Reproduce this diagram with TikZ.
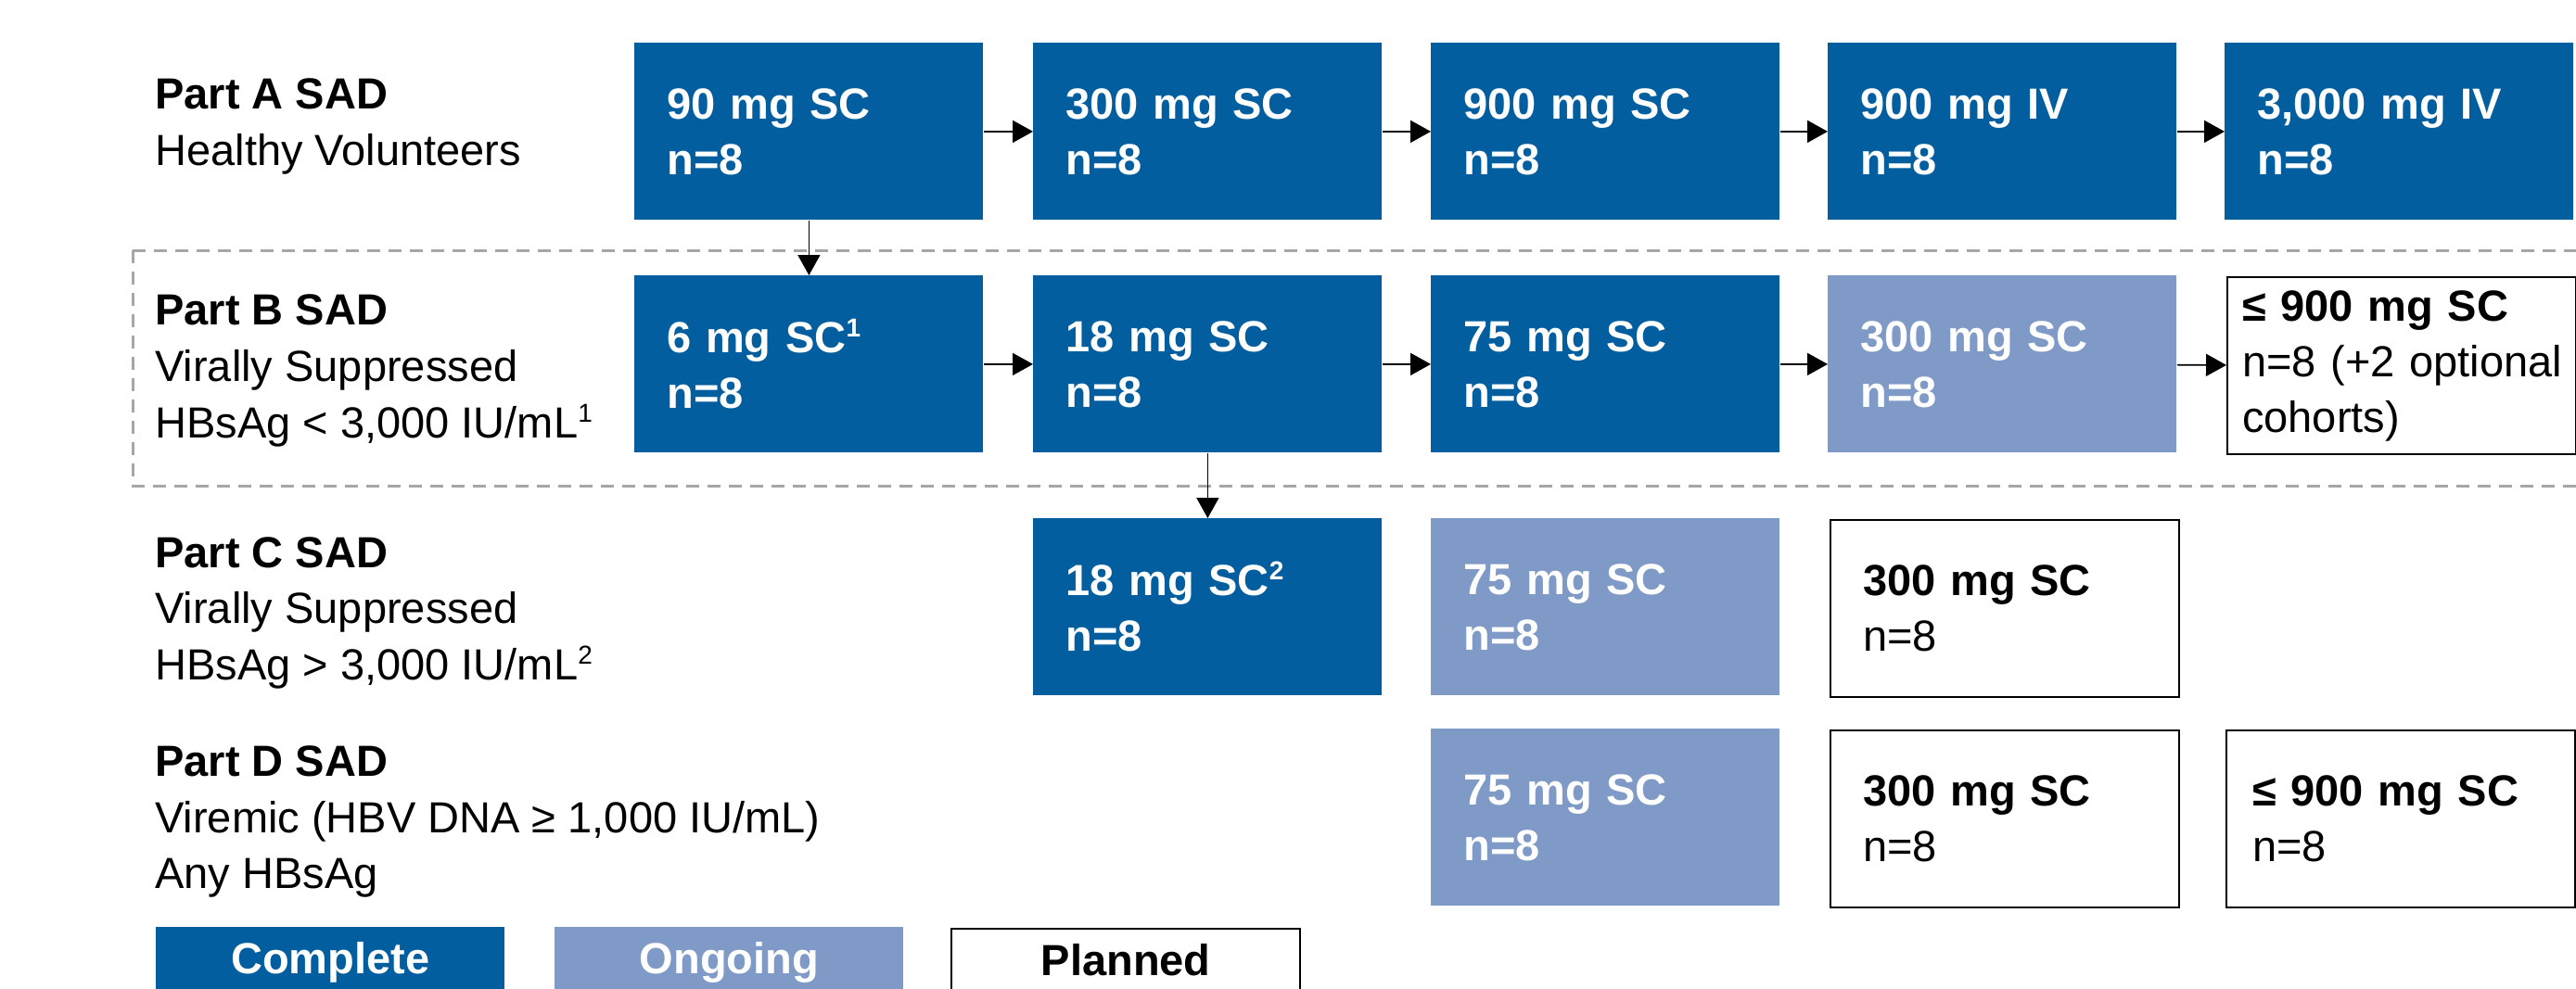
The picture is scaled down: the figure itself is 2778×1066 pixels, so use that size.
\documentclass[tikz,border=0pt]{standalone}
\usepackage{fontspec}
\setmainfont{Liberation Sans}
\usetikzlibrary{arrows.meta}
\definecolor{cdark}{HTML}{025E9E}
\definecolor{clight}{HTML}{7F9AC6}
\definecolor{dashgray}{HTML}{A6A6A6}
\newcommand\fsz{\fontsize{23.5pt}{30pt}\selectfont}
\newcommand\sups[1]{\raisebox{8.5pt}{\fontsize{14pt}{14pt}\selectfont #1}}
\tikzset{
  box/.style={rectangle, anchor=north west, minimum width=188pt, minimum height=95.5pt,
    inner xsep=17.5pt, inner ysep=0pt, text width=153pt, align=left, font=\fsz},
  done/.style={box, fill=cdark, text=white, font=\fsz\bfseries},
  ongo/.style={box, fill=clight, text=white, font=\fsz\bfseries},
  plan/.style={box, draw=black, line width=1.2pt, fill=white, text=black},
  lab/.style={anchor=base west, inner sep=0pt, font=\fsz},
  arr/.style={line width=0.8pt, -{Triangle[length=11pt,width=12pt]}},
  dashbox/.style={draw=dashgray, line width=1.5pt, dash pattern=on 7pt off 4.5pt},
  legd/.style={rectangle, anchor=north west, minimum width=188pt, inner xsep=0pt, inner ysep=0pt,
    text height=25pt, text depth=25pt, font=\fsz\bfseries},
}
\begin{document}
\begin{tikzpicture}[x=0.5pt, y=-0.5pt]
\path[use as bounding box] (0,0) rectangle (2778,1066);
\clip (0,0) rectangle (2778,1066);

% dashed frame around Part B
\draw[dashbox] (143,270) rectangle (2840,524);

% left labels
\node[lab] (pa1) at (167,117) {\bfseries Part A SAD};
\node[lab] (pa2) at (167,178) {Healthy Volunteers};
\node[lab] (pb1) at (167,350) {\bfseries Part B SAD};
\node[lab] (pb2) at (167,411) {Virally Suppressed};
\node[lab] (pb3) at (167,472) {HBsAg < 3,000 IU/mL\sups{1}};
\node[lab] (pc1) at (167,612) {\bfseries Part C SAD};
\node[lab] (pc2) at (167,672) {Virally Suppressed};
\node[lab] (pc3) at (167,733) {HBsAg > 3,000 IU/mL\sups{2}};
\node[lab] (pd1) at (167,837) {\bfseries Part D SAD};
\node[lab] (pd2) at (167,898) {Viremic (HBV DNA ≥ 1,000 IU/mL)};
\node[lab] (pd3) at (167,958) {Any HBsAg};

% Row A
\node[done] (a1) at (684,46) {90 mg SC\\n=8};
\node[done] (a2) at (1114,46) {300 mg SC\\n=8};
\node[done] (a3) at (1543,46) {900 mg SC\\n=8};
\node[done] (a4) at (1971,46) {900 mg IV\\n=8};
\node[done] (a5) at (2399,46) {3,000 mg IV\\n=8};

% Row B
\node[done] (b1) at (684,297) {6 mg SC\sups{1}\\n=8};
\node[done] (b2) at (1114,297) {18 mg SC\\n=8};
\node[done] (b3) at (1543,297) {75 mg SC\\n=8};
\node[ongo] (b4) at (1971,297) {300 mg SC\\n=8};
\node[plan, inner xsep=8pt, text width=172pt] (b5) at (2401,298) {{\bfseries ≤ 900 mg SC}\\\mbox{n=8 (+2 optional}\\cohorts)};

% Row C
\node[done] (c1) at (1114,559) {18 mg SC\sups{2}\\n=8};
\node[ongo] (c2) at (1543,559) {75 mg SC\\n=8};
\node[plan] (c3) at (1973,560) {{\bfseries 300 mg SC}\\n=8};

% Row D
\node[ongo] (d1) at (1543,786) {75 mg SC\\n=8};
\node[plan] (d2) at (1973,787) {{\bfseries 300 mg SC}\\n=8};
\node[plan, inner xsep=14pt, text width=160pt] (d3) at (2400,787) {{\bfseries ≤ 900 mg SC}\\n=8};

% connectors
\draw[arr] (a1) -- (a2);
\draw[arr] (a2) -- (a3);
\draw[arr] (a3) -- (a4);
\draw[arr] (a4) -- (a5);
\draw[arr] (b1) -- (b2);
\draw[arr] (b2) -- (b3);
\draw[arr] (b3) -- (b4);
\draw[arr] (b4) -- (b5);
\draw[arr] (a1.south) -- (b1.north);
\draw[arr] (b2.south) -- (c1.north);

% legend
\node[legd, fill=cdark, text=white] (lg1) at (168,1000) {Complete};
\node[legd, fill=clight, text=white] (lg2) at (598,1000) {Ongoing};
\node[legd, draw=black, line width=1.2pt, fill=white, text=black] (lg3) at (1025,1001) {Planned};
\end{tikzpicture}
\end{document}
